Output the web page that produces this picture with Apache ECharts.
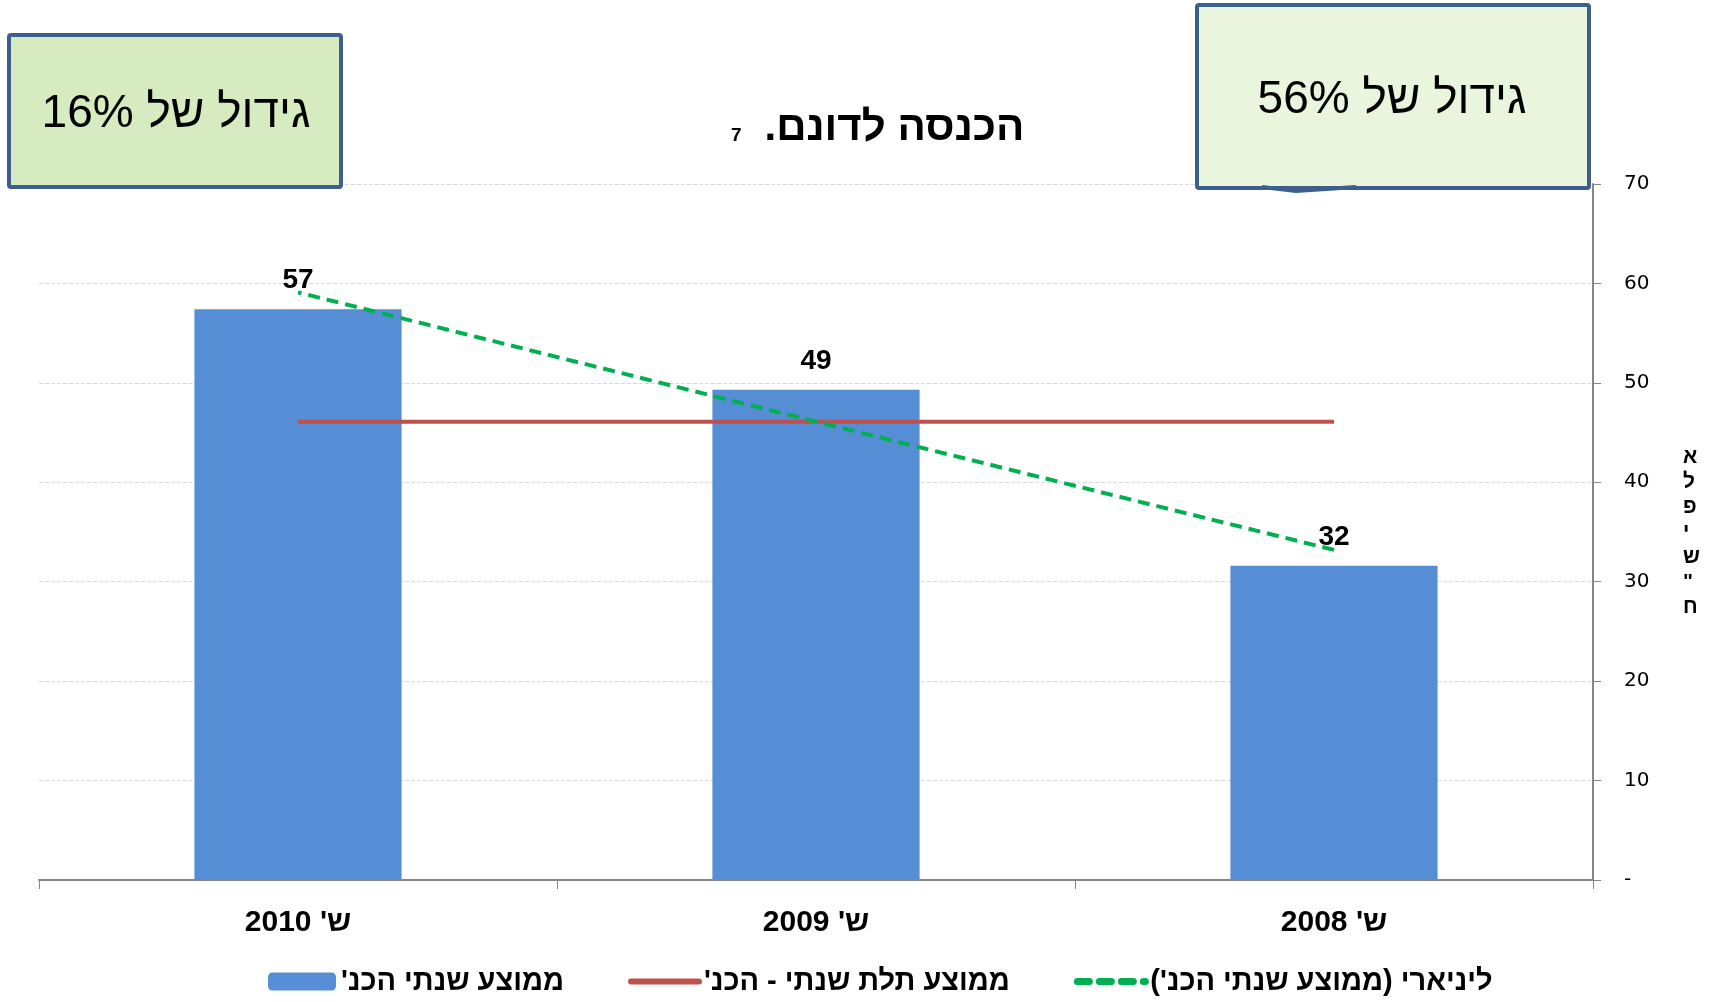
<!DOCTYPE html>
<html>
<head>
<meta charset="utf-8">
<script src="https://cdn.jsdelivr.net/npm/echarts@6/dist/echarts.min.js"></script>
<style>
  html, body { margin: 0; padding: 0; background: #fff; }
  #chart { width: 1712px; height: 1002px; }
</style>
</head>
<body>
<div id="chart"></div>
<script>
  // נתונים
  const categories = ["ש' 2008", "ש' 2009", "ש' 2010"];
  const yearlyAvg = [31.6, 49.3, 57.4];
  const threeYearAvg = [46.1, 46.1, 46.1];
  const linearTrend = [33.2, 46.1, 59.1];
  const seriesNames = ["ממוצע שנתי הכנ'", "ממוצע תלת שנתי - הכנ'", "ליניארי (ממוצע שנתי הכנ')"];
  const yTicks = { min: 0, max: 70, interval: 10 };

  const hebFont = "'Liberation Sans', Arial, sans-serif";
  // סימן RLM כדי שהפיסוק ייצא בצד הנכון
  const rtl = s => s + '\u200F';

  let myChart = echarts.init(document.getElementById('chart'));

  myChart.setOption({
    backgroundColor: '#ffffff',
    animation: false,
    title: {
      text: '{s|7}{b|' + rtl('הכנסה לדונם.') + '}',
      left: 726,
      top: 102,
      textStyle: {
        rich: {
          s: { fontSize: 19, fontWeight: 'bold', color: '#000', fontFamily: hebFont, padding: [16, 23, 0, 0] },
          b: { fontSize: 42, fontWeight: 'bold', color: '#000', fontFamily: hebFont }
        }
      }
    },
    grid: {
      left: 39,
      right: 119,
      top: 184,
      bottom: 122,
      outerBoundsMode: 'none'
    },
    legend: {
      left: 263,
      top: 962,
      itemGap: 64,
      itemWidth: 68,
      itemHeight: 18,
      textStyle: { fontSize: 29, fontWeight: 'bold', color: '#000', fontFamily: hebFont },
      formatter: name => rtl(name),
      data: [
        { name: seriesNames[0] },
        { name: seriesNames[1], itemStyle: { opacity: 0 }, lineStyle: { width: 6, cap: 'round' } },
        { name: seriesNames[2], itemStyle: { opacity: 0 }, lineStyle: { width: 7, type: [12, 10], cap: 'round' } }
      ]
    },
    xAxis: {
      type: 'category',
      data: categories,
      inverse: true,
      axisLine: { lineStyle: { color: '#868686', width: 2 } },
      axisTick: { show: true, length: 9, lineStyle: { color: '#868686' } },
      axisLabel: {
        margin: 28,
        fontSize: 30,
        fontWeight: 'bold',
        color: '#000',
        fontFamily: hebFont,
        formatter: v => rtl(v)
      },
      splitLine: { show: false }
    },
    yAxis: {
      type: 'value',
      position: 'right',
      min: yTicks.min,
      max: yTicks.max,
      interval: yTicks.interval,
      name: 'א\nל\nפ\nי\nש\n"\nח',
      nameLocation: 'middle',
      nameGap: 90,
      nameRotate: 0,
      nameMoveOverlap: false,
      nameTextStyle: { fontSize: 21, fontWeight: 'bold', color: '#000', fontFamily: hebFont, lineHeight: 25 },
      axisLine: { show: true, lineStyle: { color: '#868686', width: 2 } },
      axisTick: { show: true, inside: false, length: 8, lineStyle: { color: '#868686' } },
      axisLabel: {
        margin: 31,
        align: 'left',
        formatter: function (v) { return '{t|' + (v === 0 ? '-' : v) + '}'; },
        rich: {
          t: { width: 30, align: 'left', fontSize: 20, color: '#000', fontFamily: "'DejaVu Sans', sans-serif" }
        }
      },
      splitLine: { show: true, lineStyle: { color: '#d9d9d9', type: 'dashed', width: 1 } }
    },
    series: [{
      name: seriesNames[0],
      type: 'bar',
      data: yearlyAvg,
      barWidth: '40%',
      itemStyle: { color: '#558ed5' },
      label: {
        show: true,
        position: 'top',
        distance: 15,
        fontSize: 28,
        fontWeight: 'bold',
        color: '#000',
        fontFamily: "'Liberation Sans', sans-serif",
        formatter: function (p) { return Math.round(p.value); }
      },
      z: 2
    }, {
      name: seriesNames[1],
      type: 'line',
      data: threeYearAvg,
      symbol: 'none',
      itemStyle: { color: '#c0504d' },
      lineStyle: { color: '#c0504d', width: 4 },
      z: 3
    }, {
      name: seriesNames[2],
      type: 'line',
      data: linearTrend,
      symbol: 'none',
      itemStyle: { color: '#00b050' },
      lineStyle: { color: '#00b050', width: 4, type: [12, 7] },
      z: 4
    }],
    graphic: [{
      type: 'rect',
      shape: { x: 9, y: 35, width: 332, height: 152, r: 2 },
      style: { fill: '#d7ebc0', stroke: '#3d5f8d', lineWidth: 4 },
      z: 10
    }, {
      type: 'text',
      x: 176,
      y: 114,
      style: {
        text: 'גידול של 16%',
        font: '46px ' + hebFont,
        fill: '#000',
        align: 'center',
        verticalAlign: 'middle'
      },
      z: 11
    }, {
      type: 'rect',
      shape: { x: 1197, y: 5, width: 392, height: 183, r: 2 },
      style: { fill: '#e9f5dd', stroke: '#3d5f8d', lineWidth: 4 },
      z: 10
    }, {
      type: 'polyline',
      shape: { points: [[1262, 187], [1296, 191], [1356, 187]] },
      style: { fill: null, stroke: '#3d5f8d', lineWidth: 4 },
      z: 10
    }, {
      type: 'text',
      x: 1392,
      y: 100,
      style: {
        text: 'גידול של 56%',
        font: '46px ' + hebFont,
        fill: '#000',
        align: 'center',
        verticalAlign: 'middle'
      },
      z: 11
    }]
  });
</script>
</body>
</html>
